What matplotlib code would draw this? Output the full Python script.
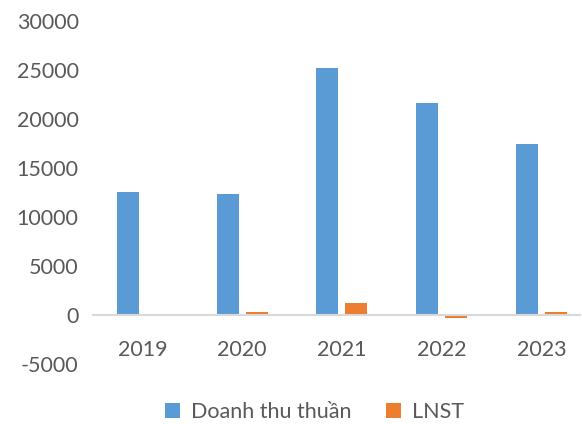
import numpy as np
import matplotlib.pyplot as plt

years = ["2019", "2020", "2021", "2022", "2023"]
doanh_thu = [12600, 12300, 25250, 21600, 17450]
lnst = [80, 300, 1200, -300, 300]

plt.rcParams["font.family"] = ["Lato", "DejaVu Sans"]
plt.rcParams["axes.unicode_minus"] = False
text_color = "#595959"

fig = plt.figure(figsize=(5.82, 4.24), dpi=100)
ax = fig.add_axes([0.159, 0.1415, 0.838, 0.809])

x = np.arange(len(years))
w = 0.22
ax.bar(x - 0.146, doanh_thu, width=w, color="#5B9BD5", label="Doanh thu thuần")
ax.bar(x + 0.146, lnst, width=w, color="#ED7D31", label="LNST")

ax.set_xlim(-0.5, 4.39)
ax.set_ylim(-5000, 30000)
ax.set_yticks(range(-5000, 30001, 5000))
ax.tick_params(axis="y", length=0, labelsize=15.5, labelcolor=text_color, pad=10)

for s in ["top", "right", "left"]:
    ax.spines[s].set_visible(False)
ax.spines["bottom"].set_position(("data", 0))
ax.spines["bottom"].set_color("#D9D9D9")
ax.spines["bottom"].set_linewidth(1.5)
ax.set_xticks(x)
ax.set_xticklabels(years)
ax.tick_params(axis="x", length=0, labelsize=15.5, labelcolor=text_color, pad=18)

fig.legend(loc="center", bbox_to_anchor=(0.54, 0.028), ncol=2, frameon=False,
           fontsize=15.5, labelcolor=text_color, handlelength=0.7, handleheight=0.7,
           columnspacing=1.6, handletextpad=0.5)

fig.savefig("out.png", dpi=100)
